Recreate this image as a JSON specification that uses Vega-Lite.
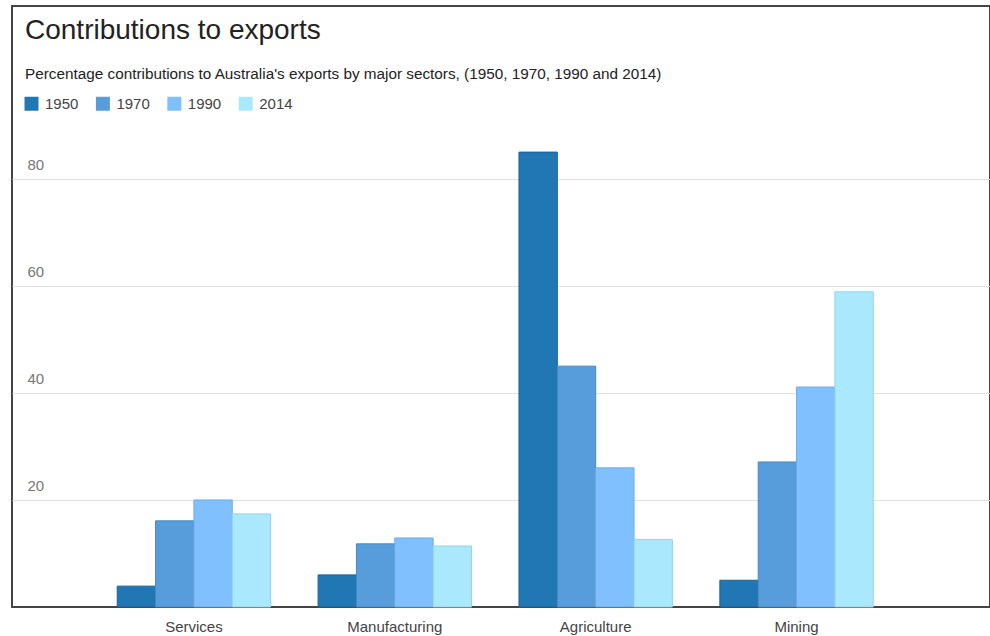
{
  "$schema": "https://vega.github.io/schema/vega-lite/v6.json",
  "width": 978,
  "height": 601,
  "autosize": {"type": "none"},
  "padding": {"left": 12, "top": 6, "right": 0, "bottom": 29},
  "background": "white",
  "config": {
    "font": "Liberation Sans",
    "view": {"stroke": "#444444", "strokeWidth": 2}
  },
  "title": {
    "text": "Contributions to exports",
    "subtitle": "Percentage contributions to Australia's exports by major sectors, (1950, 1970, 1990 and 2014)",
    "anchor": "start",
    "frame": "group",
    "orient": "top",
    "baseline": "top",
    "offset": -76,
    "dx": 13,
    "fontSize": 28,
    "fontWeight": "normal",
    "color": "#222222",
    "subtitleFontSize": 15.3,
    "subtitleColor": "#222222",
    "subtitlePadding": 22
  },
  "data": {
    "values": [
      {"sector": "Services", "year": "1950", "value": 3.9},
      {"sector": "Services", "year": "1970", "value": 16.1},
      {"sector": "Services", "year": "1990", "value": 20.0},
      {"sector": "Services", "year": "2014", "value": 17.4},
      {"sector": "Manufacturing", "year": "1950", "value": 6.0},
      {"sector": "Manufacturing", "year": "1970", "value": 11.8},
      {"sector": "Manufacturing", "year": "1990", "value": 12.9},
      {"sector": "Manufacturing", "year": "2014", "value": 11.4},
      {"sector": "Agriculture", "year": "1950", "value": 85.0},
      {"sector": "Agriculture", "year": "1970", "value": 45.0},
      {"sector": "Agriculture", "year": "1990", "value": 26.0},
      {"sector": "Agriculture", "year": "2014", "value": 12.6},
      {"sector": "Mining", "year": "1950", "value": 5.0},
      {"sector": "Mining", "year": "1970", "value": 27.1},
      {"sector": "Mining", "year": "1990", "value": 41.1},
      {"sector": "Mining", "year": "2014", "value": 58.9}
    ]
  },
  "mark": {"type": "bar", "strokeWidth": 1},
  "encoding": {
    "x": {
      "field": "sector",
      "type": "nominal",
      "sort": ["Services", "Manufacturing", "Agriculture", "Mining"],
      "scale": {"paddingInner": 0.2364, "paddingOuter": 0.5525, "align": 0.474},
      "axis": {
        "title": null,
        "labelAngle": 0,
        "labelFontSize": 15,
        "labelColor": "#444444",
        "labelPadding": 12,
        "ticks": false,
        "domain": false,
        "grid": false
      }
    },
    "xOffset": {
      "field": "year",
      "type": "nominal",
      "scale": {"paddingInner": 0, "paddingOuter": 0}
    },
    "y": {
      "field": "value",
      "type": "quantitative",
      "scale": {"domain": [0, 112.3], "nice": false, "zero": true},
      "axis": {
        "title": null,
        "values": [20, 40, 60, 80],
        "domain": false,
        "ticks": false,
        "labelAlign": "left",
        "labelBaseline": "alphabetic",
        "labelOffset": -9,
        "labelPadding": -15,
        "labelFontSize": 15,
        "labelColor": "#777777",
        "gridColor": "#e0e0e0",
        "gridWidth": 1
      }
    },
    "color": {
      "field": "year",
      "type": "nominal",
      "scale": {
        "domain": ["1950", "1970", "1990", "2014"],
        "range": ["#2077b4", "#589ddb", "#80c0ff", "#aae9fd"]
      },
      "legend": {
        "title": null,
        "orient": "none",
        "legendX": 12,
        "legendY": 90,
        "direction": "horizontal",
        "symbolType": "square",
        "symbolSize": 196,
        "symbolStrokeWidth": 0,
        "labelFontSize": 15,
        "labelColor": "#444444",
        "labelOffset": 6,
        "columnPadding": 16.4
      }
    },
    "stroke": {
      "field": "year",
      "type": "nominal",
      "scale": {
        "domain": ["1950", "1970", "1990", "2014"],
        "range": ["#1a639a", "#4688c6", "#6aaceb", "#8fd5ec"]
      },
      "legend": null
    }
  }
}
